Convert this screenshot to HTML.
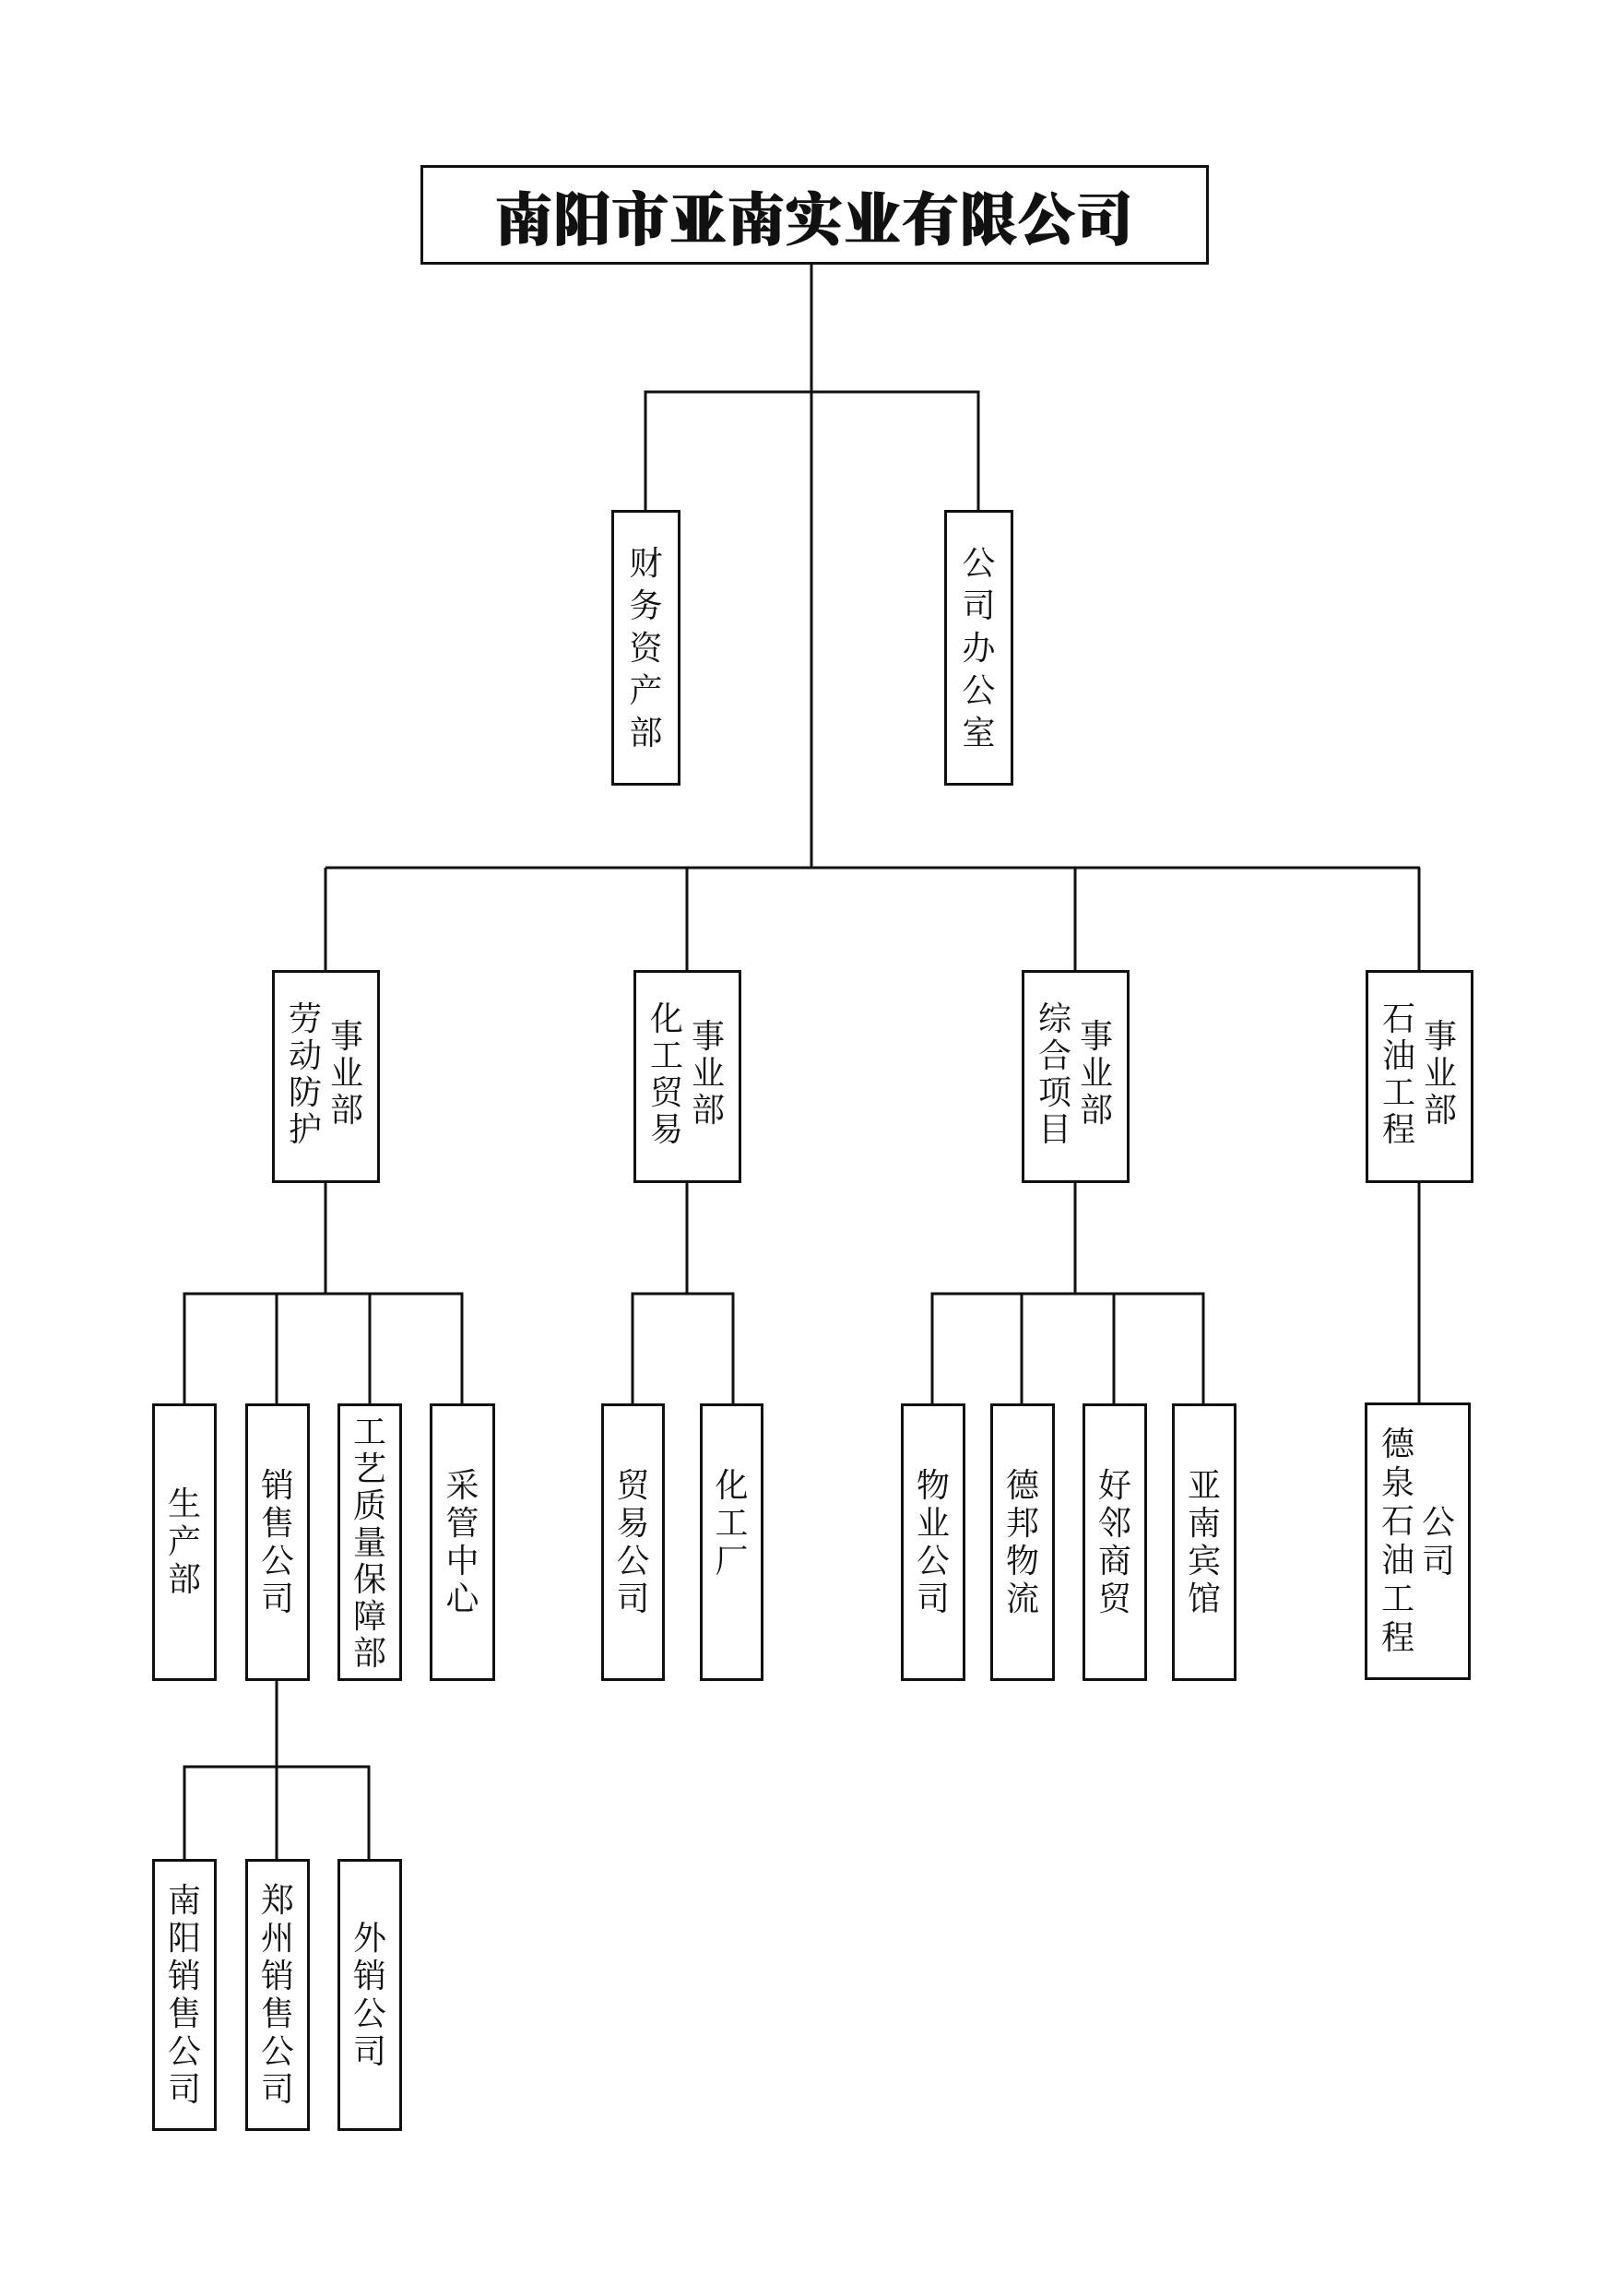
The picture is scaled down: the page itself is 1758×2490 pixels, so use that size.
<!DOCTYPE html>
<html><head><meta charset="utf-8"><style>
html,body{margin:0;padding:0;background:#fff;}
body{width:1758px;height:2490px;position:relative;overflow:hidden;font-family:"Liberation Serif","Noto Serif CJK SC",serif;color:#111;}
.b{position:absolute;box-sizing:border-box;border:3px solid #111;background:#fff;display:flex;align-items:center;justify-content:center;}
.v{font-size:36px;line-height:41px;width:40px;text-align:center;word-break:break-all;}
.c{position:absolute;font-size:36px;line-height:40px;width:40px;text-align:center;word-break:break-all;}
svg{position:absolute;left:0;top:0;}
</style></head><body>
<svg width="1758" height="2490">
<g stroke="#111" stroke-width="3" fill="none">
<line x1="880" y1="286" x2="880" y2="941"/>
<polyline points="700,553 700,425 1061,425 1061,553"/>
<line x1="353" y1="941" x2="1540" y2="941"/>
<line x1="353" y1="941" x2="353" y2="1052"/>
<line x1="745" y1="941" x2="745" y2="1052"/>
<line x1="1166" y1="941" x2="1166" y2="1052"/>
<line x1="1539" y1="941" x2="1539" y2="1052"/>
<line x1="353" y1="1282" x2="353" y2="1403"/>
<line x1="745" y1="1282" x2="745" y2="1403"/>
<line x1="1166" y1="1282" x2="1166" y2="1403"/>
<line x1="1539" y1="1282" x2="1539" y2="1522"/>
<polyline points="200,1522 200,1403 501,1403 501,1522"/>
<line x1="300" y1="1403" x2="300" y2="1522"/>
<line x1="401" y1="1403" x2="401" y2="1522"/>
<polyline points="686,1522 686,1403 795,1403 795,1522"/>
<polyline points="1011,1522 1011,1403 1305,1403 1305,1522"/>
<line x1="1108" y1="1403" x2="1108" y2="1522"/>
<line x1="1208" y1="1403" x2="1208" y2="1522"/>
<line x1="300" y1="1822" x2="300" y2="2016"/>
<polyline points="200,2016 200,1916 400,1916 400,2016"/>
</g></svg>

<div class="b" style="left:456px;top:179px;width:855px;height:108px;"><span style="font-family:'Liberation Serif','Noto Serif CJK SC',serif;font-weight:900;font-size:62px;letter-spacing:1px;-webkit-text-stroke:1px #111;">南阳市亚南实业有限公司</span></div>

<div class="b" style="left:663px;top:553px;width:75px;height:299px;"><div class="v" style="line-height:46px">财务资产部</div></div>
<div class="b" style="left:1024px;top:553px;width:75px;height:299px;"><div class="v" style="line-height:46px">公司办公室</div></div>

<div class="b" style="left:295px;top:1052px;width:117px;height:231px;"></div>
<div class="c" style="left:311px;top:1085px;">劳动防护</div><div class="c" style="left:356px;top:1104px;">事业部</div>
<div class="b" style="left:687px;top:1052px;width:117px;height:231px;"></div>
<div class="c" style="left:703px;top:1085px;">化工贸易</div><div class="c" style="left:748px;top:1104px;">事业部</div>
<div class="b" style="left:1108px;top:1052px;width:117px;height:231px;"></div>
<div class="c" style="left:1124px;top:1085px;">综合项目</div><div class="c" style="left:1169px;top:1104px;">事业部</div>
<div class="b" style="left:1481px;top:1052px;width:117px;height:231px;"></div>
<div class="c" style="left:1497px;top:1085px;">石油工程</div><div class="c" style="left:1542px;top:1104px;">事业部</div>

<div class="b" style="left:165px;top:1522px;width:70px;height:301px;"><div class="v">生产部</div></div>
<div class="b" style="left:266px;top:1522px;width:70px;height:301px;"><div class="v">销售公司</div></div>
<div class="b" style="left:366px;top:1522px;width:70px;height:301px;"><div class="v" style="line-height:40px">工艺质量保障部</div></div>
<div class="b" style="left:466px;top:1522px;width:71px;height:301px;"><div class="v">采管中心</div></div>

<div class="b" style="left:652px;top:1522px;width:69px;height:301px;"><div class="v">贸易公司</div></div>
<div class="b" style="left:759px;top:1522px;width:69px;height:301px;"><div class="v" style="margin-top:-40px">化工厂</div></div>

<div class="b" style="left:977px;top:1522px;width:70px;height:301px;"><div class="v">物业公司</div></div>
<div class="b" style="left:1074px;top:1522px;width:70px;height:301px;"><div class="v">德邦物流</div></div>
<div class="b" style="left:1174px;top:1522px;width:70px;height:301px;"><div class="v">好邻商贸</div></div>
<div class="b" style="left:1271px;top:1522px;width:70px;height:301px;"><div class="v">亚南宾馆</div></div>

<div class="b" style="left:1480px;top:1521px;width:115px;height:301px;"></div>
<div class="c" style="left:1496px;top:1545px;line-height:42px;">德泉石油工程</div>
<div class="c" style="left:1540px;top:1630px;line-height:42px;">公司</div>

<div class="b" style="left:165px;top:2016px;width:70px;height:295px;"><div class="v">南阳销售公司</div></div>
<div class="b" style="left:266px;top:2016px;width:70px;height:295px;"><div class="v">郑州销售公司</div></div>
<div class="b" style="left:366px;top:2016px;width:70px;height:295px;"><div class="v">外销公司</div></div>
</body></html>
